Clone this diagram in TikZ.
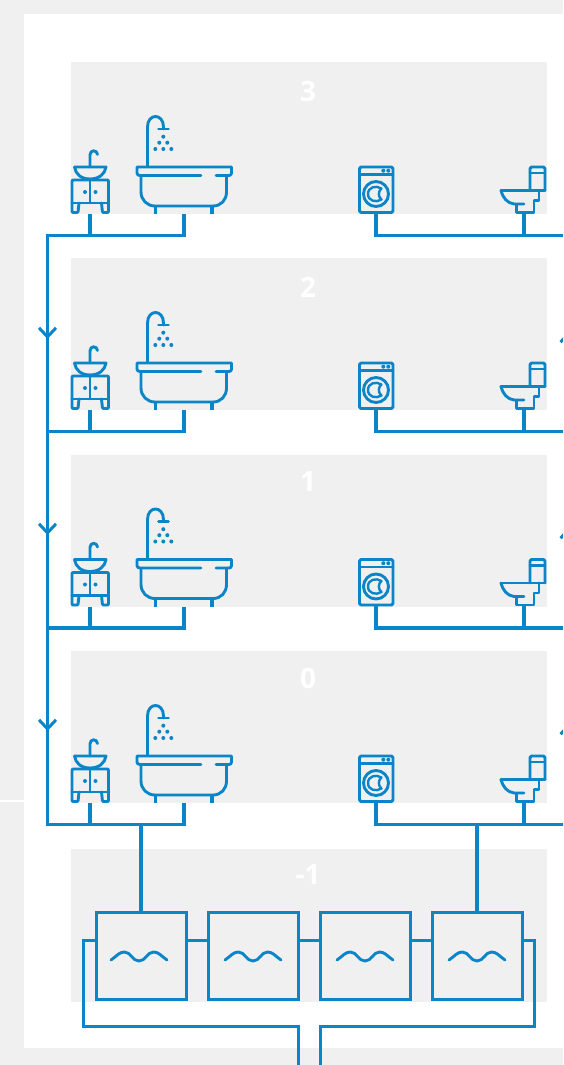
\documentclass[tikz,border=0pt]{standalone}
\usepackage{fontspec}
\setmainfont{Open Sans}
\usepackage{xcolor}
\usetikzlibrary{arrows.meta,calc}
\definecolor{pwall}{HTML}{F0F0F0}
\definecolor{pblue}{HTML}{0A86C8}
\tikzset{
  % thin strokes of the fixtures, thicker strokes of the pipes
  icon/.style  = {draw=pblue, line width=2.9pt, line join=round, line cap=round, fill=none},
  pipe/.style  = {draw=pblue, line width=3.1pt, line join=miter},
  feed/.style  = {draw=pblue, line width=3.5pt},
  drain/.style = {draw=pblue, line width=3pt, line join=miter},
  riser/.style = {pipe, -{Straight Barb[length=9pt,width=17pt,line width=3pt]}},
  floorbox/.style = {rectangle, fill=pwall, draw=none, inner sep=0pt, outer sep=0pt,
                  minimum width=476pt, minimum height=152pt},
  floorlbl/.style = {text=white, font=\fontsize{28}{28}\selectfont\bfseries, inner sep=0pt},
  tank/.style  = {rectangle, draw=pblue, line width=3pt, inner sep=0pt, outer sep=0pt,
                  minimum width=90pt, minimum height=87pt},
  dot/.style   = {circle, fill=pblue, inner sep=0pt, minimum size=4pt},
  % the fixtures are drawn at the coordinates of the top floor
  vanity/.pic = {
    \draw[icon, rounded corners=1pt] (72,203) -- (72,180) -- (108.5,180) -- (108.5,203);
    \draw[icon] (72,203) -- (108.5,203) (90,180) -- (90,203);
    \draw[icon, rounded corners=1pt] (72,203) -- (72,212.5) -- (78,212.5) -- (79,203);
    \draw[icon, rounded corners=1pt] (108.5,203) -- (108.5,212.5) -- (102.5,212.5) -- (101.5,203);
    \draw[icon] (74.5,167) -- (106,167) .. controls (105,174) and (99,179) .. (90,179)
       .. controls (81,179) and (75.5,174) .. (74.5,167);
    \draw[icon] (90,167) -- (90,155) .. controls (90,149.5) and (97,149.5) .. (97.5,154.5);
    \node[dot] (knobl) at (85,192) {};
    \node[dot] (knobr) at (95.5,192) {};
  },
  tub/.pic = {
    \draw[icon] (201,175.5) -- (140,175.5) .. controls (138,175.5) and (137,174.5) .. (137,173)
       -- (137,167) -- (231.5,167) -- (231.5,173) .. controls (231.5,174.5) and (230.5,175.5) .. (229,175.5)
       -- (216,175.5);
    \draw[icon] (141,176) -- (141,192) .. controls (141,200) and (147,206) .. (155,206)
       -- (213,206) .. controls (221,206) and (226.5,200) .. (226.5,192) -- (226.5,176);
    \draw[icon, line cap=butt, line width=3.4pt] (155.5,206) -- (155.5,214) (212,206) -- (212,214);
    \draw[icon] (147.5,166) -- (147.5,127) .. controls (147.5,113) and (163.5,113) .. (163.5,127) -- (163.5,129);
    \draw[icon] (158.5,129) -- (168.5,129);
    \foreach \dx/\dy [count=\k] in {163.3/136.7,159.3/142.7,167.3/142.7,155.3/149,163.3/149,171.3/149}
      \node[dot] (drop\k) at (\dx,\dy) {};
  },
  washer/.pic = {
    \draw[icon, rounded corners=1.5pt] (359.5,167) rectangle (393,212.5);
    \draw[icon] (359.5,174.5) -- (393,174.5);
    \node[dot] (btnl) at (383.3,170.7) {};
    \node[dot] (btnr) at (388.3,170.7) {};
    \draw[icon] (376,194) circle[radius=12.5pt];
    \draw[icon, line width=2.4pt] (381.5,188.5) .. controls (376,185) and (368,187) .. (368,194)
       .. controls (368,201) and (376,203) .. (381.5,199.5) .. controls (378,197) and (378,191) .. (381.5,188.5);
  },
  closet/.pic = {
    \draw[icon, rounded corners=1.5pt] (530,190.5) -- (530,167) -- (545,167) -- (545,190.5);
    \draw[icon] (530,173) -- (545,173);
    \draw[icon] (501,190.5) -- (545,190.5);
    \draw[icon] (501,190.5) .. controls (503,198) and (507,203) .. (514,204) -- (524,204);
    \draw[icon] (516.5,204.5) -- (516.5,212.5) -- (534,212.5) -- (534,200.5) -- (539,200.5) -- (539,190.5);
  },
}
\begin{document}
\begin{tikzpicture}[x=1pt,y=-1pt]
\clip (0,0) rectangle (563,1065);
\fill[pwall] (0,0) rectangle (563,1065);
\fill[white] (0,800) rectangle (24,802);
\fill[white] (24,14) rectangle (563,1048);

% one floor of the house per pass
\foreach \lvl/\off/\laby in {3/0/91,2/196/91,1/392.5/89.5,0/589/89.5}{
  \begin{scope}[shift={(0,\off)}]
    \node[floorbox] (floor\lvl) at (309,138) {};
    \node[floorlbl] (label\lvl) at (308,\laby) {\lvl};
    \pic {vanity};
    \pic {tub};
    \pic {washer};
    \pic {closet};
    \coordinate (sink\lvl)  at (90,214);
    \coordinate (bath\lvl)  at (184,214);
    \coordinate (wash\lvl)  at (376,213);
    \coordinate (wc\lvl)    at (524,213);
    \coordinate (left\lvl)  at (47.5,235.5);
    \coordinate (right\lvl) at (564,235.5);
  \end{scope}
  \draw[pipe] (sink\lvl) -- (sink\lvl |- left\lvl);
  \draw[pipe] (bath\lvl) |- (left\lvl);
  \draw[pipe] (wash\lvl) |- (right\lvl);
  \draw[pipe] (wc\lvl) -- (wc\lvl |- right\lvl);
}
\draw[pipe] ([yshift=1.5pt]left3) -- ([yshift=-1.5pt]left0);

% down arrows on the left stack, up arrows just past the right edge
\foreach \tip in {339,535,731}{
  \coordinate (downtip) at (47.5,\tip);
  \draw[riser] ($(downtip)+(0,-20)$) -- (downtip);
  \coordinate (uptip) at (569,\tip-8);
  \draw[riser] ($(uptip)+(0,20)$) -- (uptip);
}

% basement with the four tanks
\node[floorbox, minimum height=153pt] (floorm) at (309,925.5) {};
\node[floorlbl] (labelm) at (308,874) {-1};
\node[tank] (tank1) at (141,956) {};
\node[tank] (tank2) at (253,956) {};
\node[tank] (tank3) at (365,956) {};
\node[tank] (tank4) at (477,956) {};
\foreach \wx in {139,253,365,477}
  \draw[icon] (\wx-28,960) .. controls (\wx-22,956) and (\wx-20,952) .. (\wx-14.5,952)
     .. controls (\wx-8,952) and (\wx-7,961) .. (\wx,961)
     .. controls (\wx+7,961) and (\wx+8,952) .. (\wx+14.5,952)
     .. controls (\wx+20,952) and (\wx+22,956) .. (\wx+28,960);
\foreach \a/\b in {tank1/tank2,tank2/tank3,tank3/tank4}
  \draw[drain] ([yshift=16pt]\a.east) -- ([yshift=16pt]\b.west);

% feeds from floor 0 down to the tanks
\draw[feed] (tank1.north) -- (tank1.north |- left0);
\draw[feed] (tank4.north) -- (tank4.north |- right0);

% outlet around the tanks
\coordinate (outl) at (298,1066);
\coordinate (outr) at (320,1066);
\draw[drain] ([yshift=16pt]tank1.west) -| (83,1026) -| (outl);
\draw[drain] ([yshift=16pt]tank4.east) -| (534,1026) -| (outr);
\end{tikzpicture}
\end{document}
